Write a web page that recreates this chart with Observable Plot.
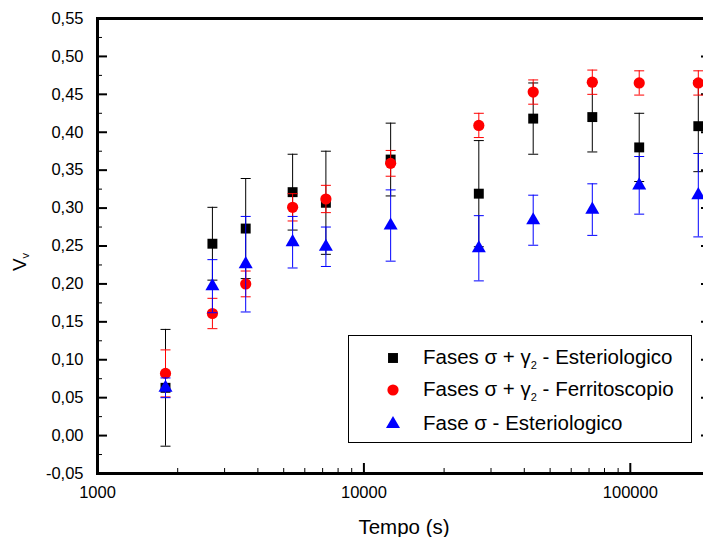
<!DOCTYPE html>
<html>
<head>
<meta charset="utf-8">
<script src="https://cdn.jsdelivr.net/npm/d3@7"></script>
<script src="https://cdn.jsdelivr.net/npm/@observablehq/plot@0.6"></script>
<style>
  html, body { margin: 0; padding: 0; background: #fff; overflow: hidden; }
  body { font-family: "Liberation Sans", Arial, sans-serif; color: #000; }
  #wrap { position: relative; width: 703px; height: 537px; overflow: hidden; }
  #chart { position: absolute; left: 0; top: 0; width: 720px; }
  #chart svg { max-width: none !important; }
  #ylab { position: absolute; left: 20px; top: 262px; font-size: 19px; white-space: nowrap;
          transform: translate(-50%, -50%) rotate(-90deg); line-height: 1; }
  #ylab sub { font-size: 11px; vertical-align: -3px; }
  #xlab { position: absolute; left: 404px; top: 527px; font-size: 20.5px; white-space: nowrap;
          transform: translate(-50%, -50%); line-height: 1; }
  #legend { position: absolute; left: 348px; top: 335px; width: 344px; height: 108px;
            border: 1px solid #000; background: #fff; box-sizing: border-box; }
  .row { position: absolute; left: 0; height: 30px; display: flex; align-items: center; }
  .row svg { position: absolute; left: 34px; top: 5px; }
  .row span { position: absolute; left: 74px; top: 4px; font-size: 20.5px; white-space: nowrap; line-height: 1; }
  .row sub { font-size: 11px; vertical-align: -5px; }
</style>
</head>
<body>
<div id="wrap">
  <div id="chart"></div>
  <div id="ylab">V<sub>v</sub></div>
  <div id="xlab">Tempo (s)</div>
  <div id="legend"></div>
</div>
<script>
// ---- data ----
const times = [1800, 2700, 3600, 5400, 7200, 12600, 27000, 43200, 72000, 108000, 180000];

const estSigmaGamma    = [0.063, 0.253, 0.273, 0.321, 0.307, 0.364, 0.319, 0.418, 0.420, 0.380, 0.408];
const estSigmaGammaErr = [0.077, 0.048, 0.066, 0.050, 0.068, 0.048, 0.070, 0.047, 0.046, 0.045, 0.060];

const ferSigmaGamma    = [0.082, 0.161, 0.200, 0.301, 0.312, 0.359, 0.409, 0.453, 0.466, 0.465, 0.465];
const ferSigmaGammaErr = [0.031, 0.020, 0.017, 0.018, 0.018, 0.017, 0.016, 0.016, 0.016, 0.016, 0.016];

const estSigma    = [0.063, 0.197, 0.226, 0.255, 0.249, 0.277, 0.247, 0.284, 0.298, 0.330, 0.317];
const estSigmaErr = [0.013, 0.035, 0.063, 0.034, 0.026, 0.047, 0.043, 0.033, 0.034, 0.038, 0.055];

const seriesNames = [
  "Fases σ + γ2 - Esteriologico",
  "Fases σ + γ2 - Ferritoscopio",
  "Fase σ - Esteriologico"
];

const yMajorTicks = [-0.05, 0, 0.05, 0.10, 0.15, 0.20, 0.25, 0.30, 0.35, 0.40, 0.45, 0.50, 0.55];
const yMinorTicks = [-0.025, 0.025, 0.075, 0.125, 0.175, 0.225, 0.275, 0.325, 0.375, 0.425, 0.475, 0.525];
const xMajorTicks = [1000, 10000, 100000];
const xMinorTicks = [2000, 3000, 4000, 5000, 6000, 7000, 8000, 9000,
                     20000, 30000, 40000, 50000, 60000, 70000, 80000, 90000];

// ---- build table ----
const colors = ["#000000", "#ff0000", "#0000ff"];
const symbols = ["square", "circle", "triangle"];
const sets = [
  [estSigmaGamma, estSigmaGammaErr],
  [ferSigmaGamma, ferSigmaGammaErr],
  [estSigma, estSigmaErr]
];
const rows = [];
sets.forEach(([vals, errs], si) => {
  vals.forEach((v, i) => rows.push({t: times[i], v, lo: v - errs[i], hi: v + errs[i], s: si}));
});

const capSymbol = { draw(ctx, size) { const w = Math.sqrt(size / Math.PI); ctx.moveTo(-w, 0); ctx.lineTo(w, 0); } };
const fmtY = d => d.toFixed(2).replace(".", ",");

const marks = [];
// axes
marks.push(Plot.axisY(yMinorTicks, {anchor: "left", tickSize: -5, tickFormat: () => "", label: null}));
marks.push(Plot.axisY(yMajorTicks, {anchor: "left", tickSize: -10, tickPadding: 24, tickFormat: fmtY, strokeWidth: 2, label: null, fontSize: 16.5}));
marks.push(Plot.axisY(yMinorTicks, {anchor: "right", tickSize: -5, tickFormat: () => "", label: null}));
marks.push(Plot.axisY(yMajorTicks, {anchor: "right", tickSize: -10, tickFormat: () => "", strokeWidth: 2, label: null}));
marks.push(Plot.axisX(xMinorTicks, {anchor: "bottom", tickSize: -5, tickFormat: () => "", label: null}));
marks.push(Plot.axisX(xMajorTicks, {anchor: "bottom", tickSize: -10, tickPadding: 23, tickFormat: d => String(d), strokeWidth: 2, label: null, fontSize: 16.5}));
// series: error bars then symbols, in drawing order black, red, blue
[0, 1, 2].forEach(si => {
  const d = rows.filter(r => r.s === si);
  marks.push(Plot.ruleX(d, {x: "t", y1: "lo", y2: "hi", stroke: colors[si], strokeWidth: 1}));
  marks.push(Plot.dot(d, {x: "t", y: "lo", symbol: capSymbol, r: 5, stroke: colors[si], strokeWidth: 1}));
  marks.push(Plot.dot(d, {x: "t", y: "hi", symbol: capSymbol, r: 5, stroke: colors[si], strokeWidth: 1}));
  marks.push(Plot.dot(d, {x: "t", y: "v", symbol: symbols[si], r: si === 2 ? 5.2 : 5.6, fill: colors[si], stroke: "none"}));
});
marks.push(Plot.frame({stroke: "#000", strokeWidth: 3}));

const plot = Plot.plot({
  width: 720,
  height: 537,
  marginLeft: 97,
  marginRight: 10,
  marginTop: 18,
  marginBottom: 64,
  style: {fontFamily: "'Liberation Sans', Arial, sans-serif", fontSize: "16.5px", color: "#000", background: "transparent", overflow: "visible", maxWidth: "none"},
  x: {type: "log", domain: [1000, 200000]},
  y: {domain: [-0.05, 0.55]},
  marks
});
document.getElementById("chart").appendChild(plot);

// ---- legend ----
const legend = document.getElementById("legend");
const rowTops = [7, 39, 73];
seriesNames.forEach((name, si) => {
  const row = document.createElement("div");
  row.className = "row";
  row.style.top = rowTops[si] + "px";
  const sym = d3.symbol().type([d3.symbolSquare, d3.symbolCircle, d3.symbolTriangle][si])
    .size(Math.PI * (si === 2 ? 5.2 : 5.6) ** 2)();
  const html = name.replace("γ2", "γ<sub>2</sub>");
  row.innerHTML = `<svg width="20" height="20" viewBox="-10 -10 20 20"><path d="${sym}" fill="${colors[si]}"/></svg><span>${html}</span>`;
  legend.appendChild(row);
});
</script>
</body>
</html>
